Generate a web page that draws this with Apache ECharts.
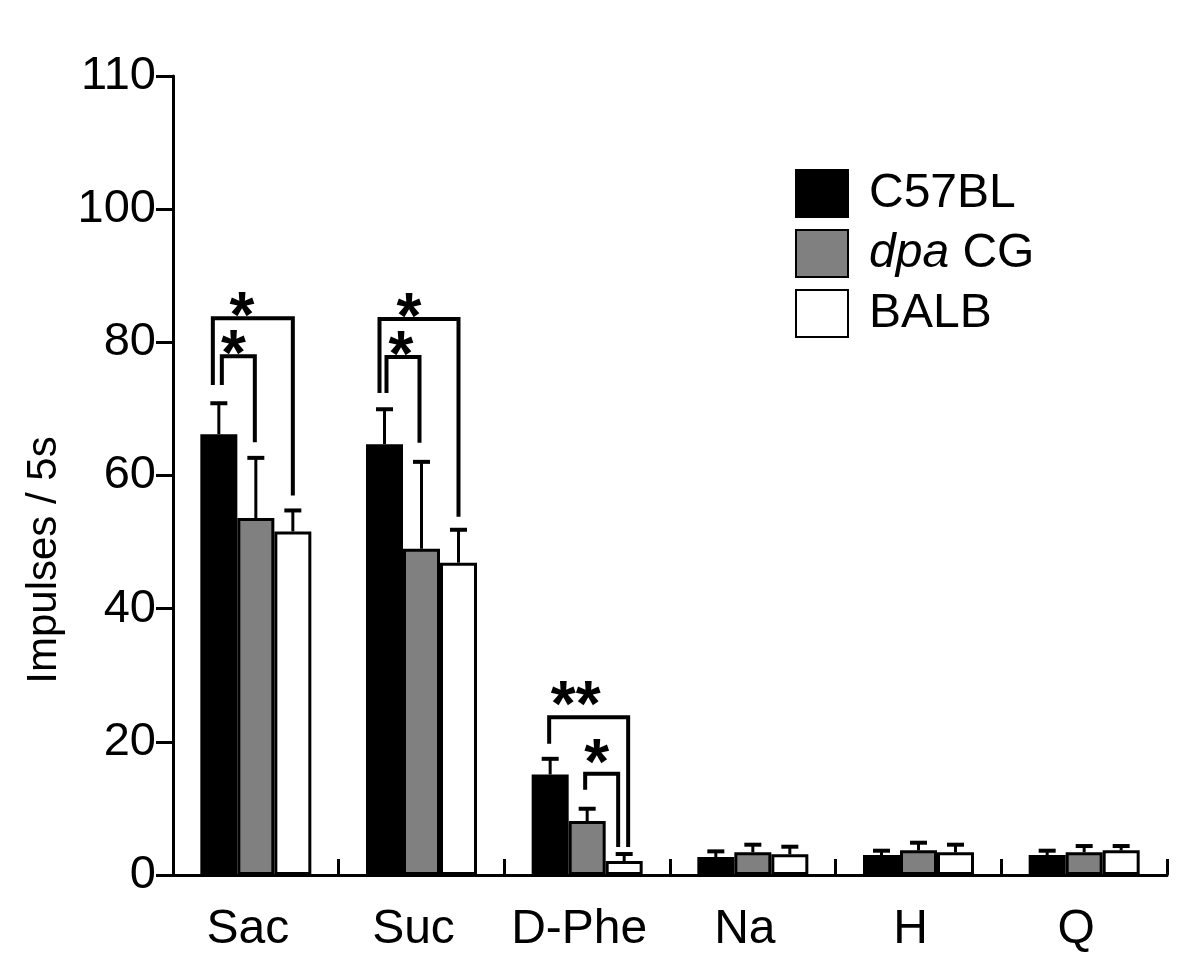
<!DOCTYPE html>
<html>
<head>
<meta charset="utf-8">
<script src="https://cdn.jsdelivr.net/npm/echarts@6/dist/echarts.min.js"></script>
<style>html,body{margin:0;padding:0;background:#fff}#c{width:1200px;height:966px}</style>
</head>
<body>
<div id="c"></div>
<script>
// ---- data ----
const categories = ['Sac', 'Suc', 'D-Phe', 'Na', 'H', 'Q'];
const seriesNames = ['C57BL', 'dpa CG', 'BALB'];
const c57Mean = [66.2, 64.7, 15.1, 2.7, 3.0, 3.0];
const c57Sem  = [4.8, 5.4, 2.5, 1.0, 0.8, 0.8];
const dpaMean = [53.6, 49.0, 8.1, 3.4, 3.7, 3.4];
const dpaSem  = [9.2, 13.2, 2.0, 1.3, 1.3, 1.1];
const balbMean = [51.6, 46.9, 2.1, 3.1, 3.4, 3.7];
const balbSem  = [3.3, 5.1, 1.2, 1.3, 1.3, 0.8];
const yTickValues = [0, 20, 40, 60, 80, 100, 120];
const yTickLabels = ['0', '20', '40', '60', '80', '100', '110'];
// significance brackets (values in axis units): category, bar a, bar b, top, leg ends, label
const bracketCat   = [0, 0, 1, 1, 2, 2];
const bracketFrom  = [0, 0, 0, 0, 0, 1];
const bracketTo    = [2, 1, 2, 1, 2, 2];
const bracketTop   = [83.6, 77.9, 83.5, 77.8, 23.7, 15.2];
const bracketFromEnd = [73.6, 73.6, 72.4, 72.4, 19.7, 12.8];
const bracketToEnd   = [57.0, 65.0, 53.8, 64.9, 4.2, 4.2];
const bracketLabel = ['*', '*', '*', '*', '**', '*'];

// ---- styling (pixels) ----
const BAR_W = 37;
const bracketNudge = [[-6, 0, -11], [3, -1, -5], [-5, 0, -10], [2, -2, -2], [-1, 4, -13], [-2, -6, -5]];
const starLift = [14, 14, 14, 14, 24, 22];
const FONT = '"Liberation Sans", Arial, sans-serif';

const means = [c57Mean, dpaMean, balbMean];
const sems = [c57Sem, dpaSem, balbSem];
const fills = ['#000000', '#808080', '#ffffff'];

const errData = [];
for (let s = 0; s < 3; s++) {
  for (let i = 0; i < categories.length; i++) {
    errData.push([i, means[s][i] + sems[s][i], s, means[s][i]]);
  }
}
const brData = bracketCat.map((c, k) => [c, bracketTop[k], k]);

const chart = echarts.init(document.getElementById('c'), null, {renderer: 'canvas'});

const barSeries = seriesNames.map((n, s) => ({
  name: n,
  type: 'bar',
  data: means[s],
  barWidth: BAR_W,
  barGap: '0%',
  itemStyle: {color: fills[s], borderColor: '#000', borderWidth: 3},
  emphasis: {disabled: true},
  z: 2
}));

chart.setOption({
  animation: false,
  backgroundColor: '#fff',
  grid: {left: 173, right: 33, top: 76, bottom: 91, containLabel: false},
  legend: {
    orient: 'vertical',
    left: 790, top: 164,
    itemWidth: 52, itemHeight: 47, itemGap: 11,
    icon: 'rect',
    selectedMode: false,
    data: seriesNames,
    formatter: function (n) { return n === 'dpa CG' ? '{i|dpa} CG' : n; },
    textStyle: {
      fontFamily: FONT, fontSize: 48, color: '#000', padding: [0, 0, 0, 16],
      rich: {i: {fontFamily: FONT, fontSize: 48, fontStyle: 'italic', color: '#000'}}
    }
  },
  xAxis: {
    type: 'category',
    data: categories,
    boundaryGap: true,
    axisLine: {lineStyle: {color: '#000', width: 3}},
    axisTick: {show: true, inside: true, length: 16, interval: 0, lineStyle: {color: '#000', width: 3}},
    axisLabel: {color: '#000', fontFamily: FONT, fontSize: 48, margin: 31, interval: 0, hideOverlap: false, padding: [0, 16, 0, 0]}
  },
  yAxis: {
    type: 'value',
    min: 0, max: 120, interval: 20,
    splitLine: {show: false},
    axisLine: {show: true, lineStyle: {color: '#000', width: 3}},
    axisTick: {show: true, length: 17, lineStyle: {color: '#000', width: 3}},
    axisLabel: {
      color: '#000', fontFamily: FONT, fontSize: 47, margin: 17,
      formatter: function (v) { const k = yTickValues.indexOf(v); return k >= 0 ? yTickLabels[k] : ''; }
    }
  },
  graphic: [{
    type: 'text', x: 44, y: 560, rotation: Math.PI / 2,
    style: {text: 'Impulses / 5s', font: '42px ' + FONT, fill: '#000', align: 'center', verticalAlign: 'middle'}
  }],
  series: barSeries.concat([
    {
      type: 'custom',
      data: errData,
      encode: {x: 0, y: 1},
      z: 3,
      silent: true,
      renderItem: function (params, api) {
        const cat = api.value(0), up = api.value(1), s = api.value(2), m = api.value(3);
        const base = api.coord([cat, m]);
        const top = api.coord([cat, up]);
        const x = base[0] + (s - 1) * BAR_W;
        return {
          type: 'group',
          children: [
            {type: 'line', shape: {x1: x, y1: base[1], x2: x, y2: top[1]}, style: {stroke: '#000', lineWidth: 3}},
            {type: 'line', shape: {x1: x - 8.5, y1: top[1] + 1, x2: x + 8.5, y2: top[1] + 1}, style: {stroke: '#000', lineWidth: 4}}
          ]
        };
      }
    },
    {
      type: 'custom',
      data: brData,
      encode: {x: 0, y: 1},
      z: 4,
      silent: true,
      renderItem: function (params, api) {
        const k = api.value(2);
        const c = bracketCat[k];
        const cx = api.coord([c, 0])[0];
        const xa = cx + (bracketFrom[k] - 1) * BAR_W + bracketNudge[k][0];
        const xb = cx + (bracketTo[k] - 1) * BAR_W + bracketNudge[k][1];
        const yTop = api.coord([c, bracketTop[k]])[1];
        const ya = api.coord([c, bracketFromEnd[k]])[1];
        const yb = api.coord([c, bracketToEnd[k]])[1];
        return {
          type: 'group',
          children: [
            {type: 'polyline', shape: {points: [[xa, ya], [xa, yTop], [xb, yTop], [xb, yb]]},
             style: {stroke: '#000', lineWidth: 4, fill: null, lineJoin: 'miter'}},
            {type: 'text', style: {text: bracketLabel[k], x: (xa + xb) / 2 + bracketNudge[k][2], y: yTop - starLift[k] + 15,
              font: 'bold 64px ' + FONT, fill: '#000', align: 'center', verticalAlign: 'middle'}}
          ]
        };
      }
    }
  ])
});
</script>
</body>
</html>
